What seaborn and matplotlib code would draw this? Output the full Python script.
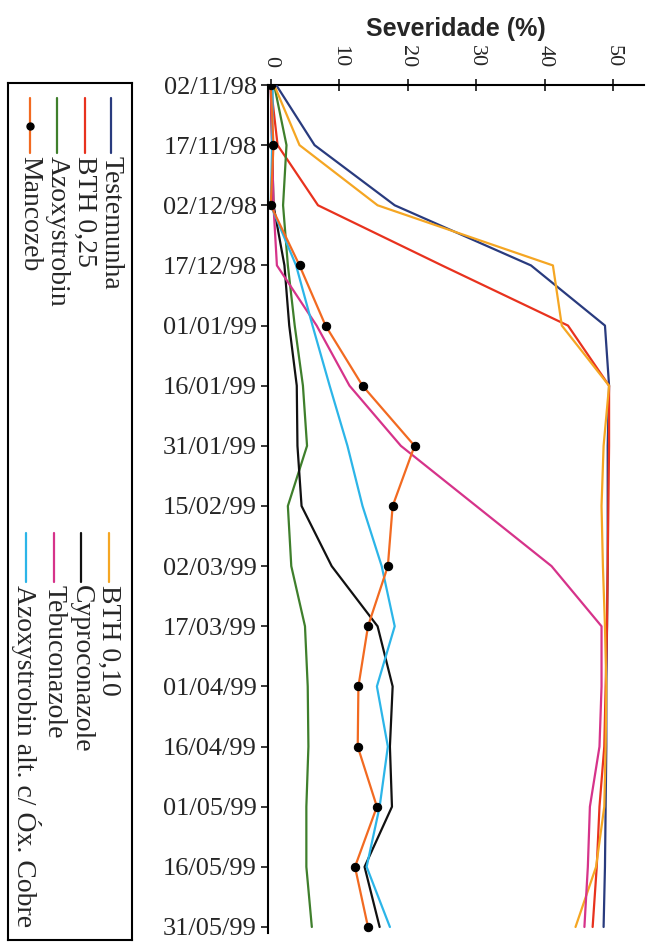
import matplotlib
matplotlib.use("Agg")
import matplotlib.pyplot as plt
import numpy as np
import pandas as pd
import seaborn as sns

datas = ["02/11/98", "17/11/98", "02/12/98", "17/12/98", "01/01/99", "16/01/99",
         "31/01/99", "15/02/99", "02/03/99", "17/03/99", "01/04/99", "16/04/99",
         "01/05/99", "16/05/99", "31/05/99"]

testemunha = [0.8, 6.4, 18.1, 38.0, 48.8, 49.4, 49.2, 49.2, 49.2, 49.1, 49.0, 49.0, 48.9, 48.8, 48.6]
bth_025 = [0.0, 1.0, 6.9, 25.0, 43.4, 49.4, 49.4, 49.3, 49.2, 49.1, 48.9, 48.7, 48.0, 47.6, 47.0]
azoxystrobin = [0.5, 2.3, 1.8, 2.5, 3.5, 4.7, 5.3, 2.5, 3.0, 5.0, 5.4, 5.5, 5.2, 5.2, 6.0]
mancozeb = [0.0, 0.4, 0.0, 4.2, 8.0, 13.4, 21.0, 17.8, 17.1, 14.2, 12.8, 12.7, 15.5, 12.3, 14.2]
bth_010 = [0.5, 4.2, 15.6, 41.2, 42.5, 49.4, 48.6, 48.3, 48.5, 48.8, 49.0, 48.9, 48.7, 47.5, 44.5]
cyproconazole = [0.0, 0.2, 0.4, 2.0, 2.7, 3.8, 3.9, 4.5, 8.9, 15.6, 17.8, 17.4, 17.7, 13.7, 15.9]
tebuconazole = [0.0, 0.2, 0.4, 0.9, 6.7, 11.5, 19.0, 30.0, 41.0, 48.3, 48.3, 48.0, 46.6, 46.3, 45.8]
azoxy_alt = [0.3, 0.2, 0.0, 3.7, 6.1, 8.6, 11.2, 13.4, 16.2, 18.1, 15.5, 17.1, 15.9, 14.0, 17.4]

series = ["Testemunha", "BTH 0,25", "Azoxystrobin", "Mancozeb",
          "BTH 0,10", "Cyproconazole", "Tebuconazole", "Azoxystrobin alt. c/ Óx. Cobre"]
valores = [testemunha, bth_025, azoxystrobin, mancozeb,
           bth_010, cyproconazole, tebuconazole, azoxy_alt]
cores = ["#293b7e", "#e8321e", "#3f7f2c", "#f26a21",
         "#f5a623", "#111111", "#d6338a", "#2cb5e8"]

df = pd.DataFrame({
    "serie": np.repeat(series, len(datas)),
    "pos": np.tile(np.arange(len(datas)), len(series)),
    "sev": np.concatenate(valores),
})

sns.set_style("white")
plt.rcParams["font.family"] = ["Liberation Serif", "DejaVu Serif"]

fig = plt.figure(figsize=(6.6, 9.43), dpi=100)
ax = fig.add_axes([268 / 660, 10 / 943, 376 / 660, 848 / 943])

for nome, cor in zip(series, cores):
    sub = df[df["serie"] == nome]
    if nome == "Mancozeb":
        sns.lineplot(data=sub, x="sev", y="pos", orient="y", color=cor, lw=1.6,
                     marker="o", markersize=6, markerfacecolor="black",
                     markeredgecolor="black", ax=ax, zorder=4)
    else:
        sns.lineplot(data=sub, x="sev", y="pos", orient="y", color=cor, lw=1.6,
                     ax=ax, zorder=3)

ax.set_xlim(-0.4, 54.5)
ax.set_ylim(14.1, 0)
ax.xaxis.tick_top()
ax.xaxis.set_label_position("top")
ax.set_xticks([0, 10, 20, 30, 40, 50])
ax.set_xticklabels(["0", "10", "20", "30", "40", "50"], rotation=-90, fontsize=16)
ax.set_yticks(np.arange(len(datas)))
ax.set_yticklabels(datas, fontsize=19)
ax.set_xlabel("Severidade (%)", fontsize=18, fontweight="bold",
              family="Liberation Sans", labelpad=6)
ax.set_ylabel("")
ax.tick_params(axis="x", direction="inout", length=8, width=1.3, pad=9)
ax.tick_params(axis="y", direction="out", length=5, width=1.3, pad=3, left=True)
for s in ["right", "bottom"]:
    ax.spines[s].set_visible(False)
for s in ["top", "left"]:
    ax.spines[s].set_linewidth(1.5)
    ax.spines[s].set_color("black")

# legenda desenhada à mão (texto girado)
lg = fig.add_axes([8 / 660, 3 / 943, 124 / 660, 857 / 943])
lg.set_xlim(0, 124)
lg.set_ylim(857, 0)
lg.set_xticks([])
lg.set_yticks([])
for s in lg.spines.values():
    s.set_linewidth(1.5)
    s.set_color("black")

col_x = [103, 77, 49, 22, 101, 73, 46, 18]
for i, (nome, cor) in enumerate(zip(series, cores)):
    x = col_x[i]
    y0, y1 = (15, 70) if i < 4 else (450, 499)
    lg.plot([x, x], [y0, y1], color=cor, lw=1.6)
    if nome == "Mancozeb":
        lg.plot([x], [(y0 + y1) / 2], "o", color="black", markersize=5)
    lg.text(x, y1 + 3, nome, rotation=-90, rotation_mode="anchor",
            ha="left", va="center", fontsize=20)

fig.savefig("out.png", dpi=100)
